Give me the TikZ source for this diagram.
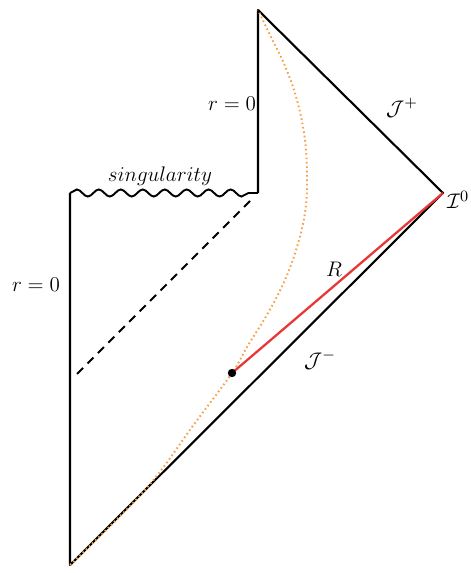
\documentclass[tikz,border=0pt]{standalone}
\usetikzlibrary{decorations.pathmorphing}
\definecolor{wlorange}{RGB}{245,160,70}
\definecolor{radred}{RGB}{232,55,55}
\begin{document}
\begin{tikzpicture}[x=0.02cm,y=-0.02cm,
  edge/.style={line width=1.2pt,line join=round},
  wavy/.style={line width=1.1pt,decorate,decoration={snake,segment length=12.5pt,amplitude=2pt}},
  horizon/.style={line width=1.2pt,dash pattern=on 4.8pt off 3.6pt},
  radius/.style={line width=1.3pt,radred},
  worldline/.style={line width=1.1pt,wlorange,dash pattern=on 0.9pt off 1.6pt},
  lbl/.style={inner sep=1pt,font=\fontsize{13}{15}\selectfont}]
\useasboundingbox (0,0) rectangle (470,573);
\coordinate (B) at (70,565);
\coordinate (L) at (70,193);
\coordinate (S) at (258,193);
\coordinate (T) at (258,10);
\coordinate (R) at (443,193);
\coordinate (H1) at (250,201);
\coordinate (H2) at (73,378);
\coordinate (P) at (232,373);
% boundaries
\draw[edge] (L) -- (B) -- (R) -- (T) -- (S);
\draw[wavy] (L) -- (S);
\draw[horizon] (H1) -- (H2);
% worldline
\draw[worldline] plot[smooth,tension=0.6] coordinates {(70,565) (145,490) (195,423) (P) (247,347) (268,313) (285,280) (297,247) (305,213) (307,180) (305,140) (297,100) (285,66) (269,33) (258,10)};
\draw[radius] (P) -- (R);
\fill (P) circle (4.2);
% labels
\node[lbl] (r0a) at (232,104) {$r=0$};
\node[lbl] (r0b) at (36,285) {$r=0$};
\node[lbl] (sing) at (160,176) {$singularity$};
\node[lbl] (Jp) at (402,108) {$\mathcal{J}^{+}$};
\node[lbl,anchor=west] (I0) at (445,200) {$\mathcal{I}^{0}$};
\node[lbl] (Rl) at (334,269) {$R$};
\node[lbl] (Jm) at (320,360) {$\mathcal{J}^{-}$};
\end{tikzpicture}
\end{document}
